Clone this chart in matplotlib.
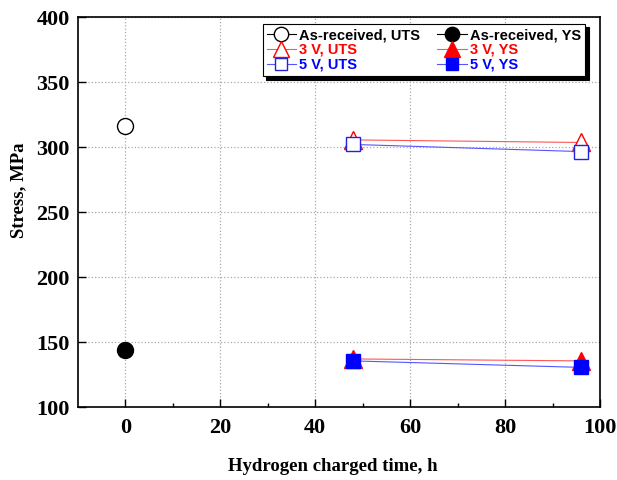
import numpy as np
from matplotlib import pyplot as plt

# Dados
tempo_ar = [0]
uts_ar = [316.5]
ys_ar = [143.5]

tempo_h = [48, 96]
uts_3v = [305.5, 303.5]
ys_3v = [137.0, 135.5]
uts_5v = [302.0, 296.5]
ys_5v = [135.5, 130.5]

serif = ['Liberation Serif', 'DejaVu Serif']
sans = ['Liberation Sans', 'DejaVu Sans']

fig = plt.figure(figsize=(6.17, 4.8), dpi=100)
ax = fig.add_axes([0.1264, 0.152, 0.846, 0.8125])

ms = 11.5
lw = 0.8
ax.plot(tempo_ar, uts_ar, '-o', color='black', mfc='white', mec='black', ms=ms, lw=lw, mew=1.0,
        label='As-received, UTS')
ax.plot(tempo_ar, ys_ar, '-o', color='black', mfc='black', mec='black', ms=ms, lw=lw,
        label='As-received, YS')
ax.plot(tempo_h, uts_3v, '-^', color='#ff5555', mfc='white', mec='red', ms=ms + 1, lw=lw, mew=1.0,
        label='3 V, UTS')
ax.plot(tempo_h, ys_3v, '-^', color='#ff5555', mfc='red', mec='red', ms=ms + 1, lw=lw,
        label='3 V, YS')
ax.plot(tempo_h, uts_5v, '-s', color='#5555ff', mfc='white', mec='#2222dd', ms=ms - 1.5, lw=lw, mew=1.0,
        label='5 V, UTS')
ax.plot(tempo_h, ys_5v, '-s', color='#5555ff', mfc='blue', mec='blue', ms=ms - 1.5, lw=lw,
        label='5 V, YS')

ax.set_xlim(-10, 100)
ax.set_ylim(100, 400)
ax.set_xticks([0, 20, 40, 60, 80, 100])
ax.set_xticks(np.arange(10, 100, 20), minor=True)
ax.set_yticks(np.arange(100, 401, 50))
ax.tick_params(direction='in', length=6, width=1.0, top=False, right=False)
ax.tick_params(which='minor', direction='in', length=3, width=1.0)
ax.grid(True, which='major', color='#aaaaaa', linestyle=':', linewidth=0.9)
for s in ax.spines.values():
    s.set_linewidth(1.2)

for lab in ax.get_xticklabels() + ax.get_yticklabels():
    lab.set_family(serif)
    lab.set_fontweight('bold')
    lab.set_fontsize(16)
ax.tick_params(axis='x', pad=8)
ax.tick_params(axis='y', pad=6)

ax.set_xlabel('Hydrogen charged time, h', family=serif, fontweight='bold', fontsize=13.5)
ax.set_ylabel('Stress, MPa', family=serif, fontweight='bold', fontsize=13.5)
ax.xaxis.set_label_coords(0.489, -0.13)
ax.yaxis.set_label_coords(-0.098, 0.556)

handles, labels = ax.get_legend_handles_labels()
order = [0, 2, 4, 1, 3, 5]
leg = ax.legend([handles[i] for i in order], [labels[i] for i in order], ncol=2,
                loc='upper right', bbox_to_anchor=(0.977, 0.99), fancybox=False,
                shadow={'ox': 2.5, 'oy': -2.5, 'color': 'black', 'alpha': 1},
                edgecolor='black', framealpha=1, handlelength=2.0, handletextpad=0.2,
                columnspacing=1.2, labelspacing=0.05, borderpad=0.3, borderaxespad=0.2,
                markerscale=0.9,
                prop={'family': sans, 'weight': 'bold', 'size': 10.5})
leg.get_frame().set_linewidth(0.8)
colors = ['black', 'red', 'blue', 'black', 'red', 'blue']
for t, c in zip(leg.get_texts(), colors):
    t.set_color(c)

plt.savefig('out.png', dpi=100)
